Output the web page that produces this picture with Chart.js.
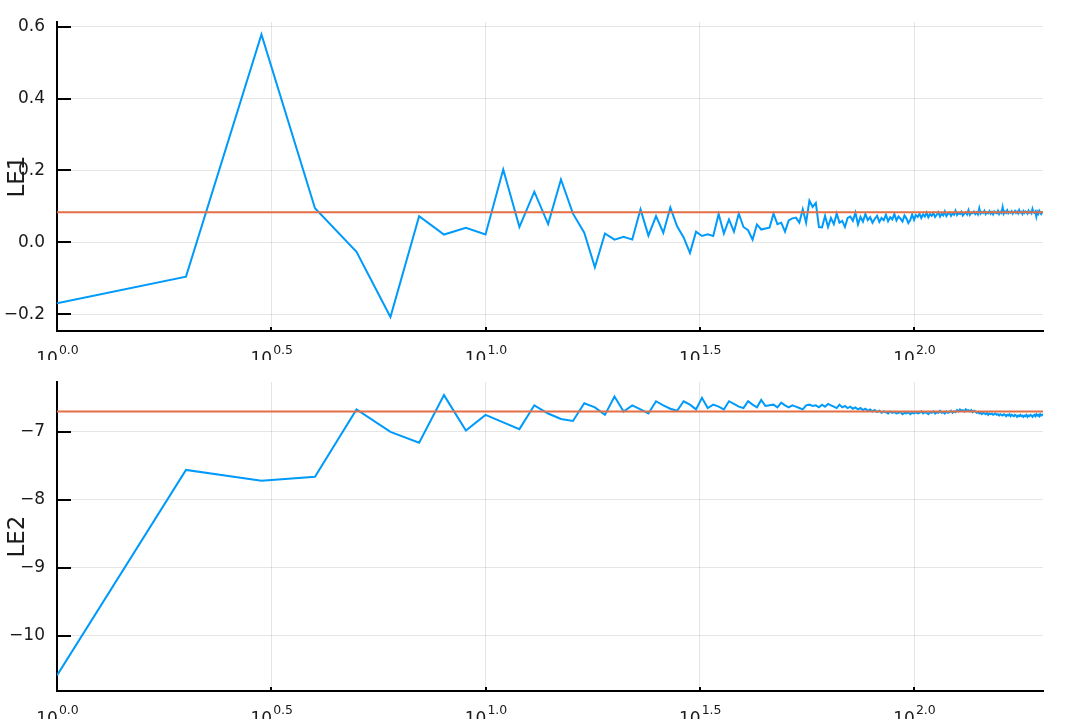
<!DOCTYPE html>
<html>
<head>
<meta charset="utf-8">
<script src="https://cdn.jsdelivr.net/npm/chart.js@4/dist/chart.umd.min.js"></script>
<style>
  body { margin: 0; background: #fff; }
  #wrap { position: relative; width: 1079px; height: 719px; overflow: hidden; }
  .panel { position: absolute; left: 0; width: 1079px; }
</style>
</head>
<body>
<div id="wrap">
  <div class="panel" style="top:0;height:360px"><canvas id="le1"></canvas></div>
  <div class="panel" style="top:360px;height:359px"><canvas id="le2"></canvas></div>
</div>
<script>
// iteration number 1..200 on the x axis
var steps = [];
for (var i = 1; i <= 200; i++) steps.push(i);

// LE1 running estimate
var le1 = [
  -0.169, -0.095, 0.578, 0.095, -0.026, -0.207, 0.073, 0.022, 0.041, 0.022,
  0.203, 0.043, 0.141, 0.051, 0.175, 0.080, 0.027, -0.069, 0.025, 0.008,
  0.016, 0.008, 0.092, 0.019, 0.073, 0.027, 0.097, 0.045, 0.014, -0.029,
  0.030, 0.018, 0.023, 0.018, 0.079, 0.025, 0.064, 0.030, 0.080, 0.043,
  0.034, 0.008, 0.050, 0.036, 0.039, 0.041, 0.080, 0.051, 0.055, 0.030,
  0.061, 0.067, 0.069, 0.055, 0.092, 0.055, 0.116, 0.099, 0.110, 0.043,
  0.042, 0.074, 0.043, 0.068, 0.051, 0.080, 0.055, 0.060, 0.043, 0.068,
  0.072, 0.060, 0.083, 0.050, 0.071, 0.058, 0.079, 0.062, 0.070, 0.055,
  0.066, 0.074, 0.057, 0.068, 0.062, 0.077, 0.059, 0.070, 0.064, 0.079,
  0.061, 0.072, 0.066, 0.058, 0.075, 0.067, 0.054, 0.062, 0.078, 0.063,
  0.076, 0.071, 0.080, 0.068, 0.078, 0.072, 0.083, 0.070, 0.079, 0.074,
  0.082, 0.071, 0.077, 0.084, 0.072, 0.080, 0.075, 0.086, 0.073, 0.079,
  0.083, 0.074, 0.081, 0.077, 0.088, 0.076, 0.082, 0.079, 0.085, 0.075,
  0.080, 0.084, 0.078, 0.090, 0.077, 0.083, 0.081, 0.086, 0.079, 0.084,
  0.078, 0.095, 0.080, 0.085, 0.082, 0.088, 0.079, 0.084, 0.081, 0.087,
  0.080, 0.085, 0.078, 0.086, 0.083, 0.081, 0.088, 0.079, 0.085, 0.082,
  0.098, 0.080, 0.086, 0.082, 0.089, 0.081, 0.085, 0.083, 0.087, 0.080,
  0.084, 0.088, 0.082, 0.086, 0.081, 0.090, 0.083, 0.085, 0.079, 0.087,
  0.082, 0.086, 0.084, 0.080, 0.088, 0.083, 0.085, 0.081, 0.093, 0.084,
  0.082, 0.086, 0.072, 0.085, 0.080, 0.088, 0.083, 0.079, 0.084, 0.082
];
var le1Ref = 0.084;

// LE2 running estimate
var le2 = [
  -10.58, -7.56, -7.72, -7.66, -6.67, -7.00, -7.16, -6.46, -6.98, -6.75,
  -6.86, -6.96, -6.61, -6.73, -6.81, -6.84, -6.58, -6.64, -6.75, -6.48,
  -6.70, -6.61, -6.67, -6.73, -6.55, -6.61, -6.66, -6.69, -6.55, -6.60,
  -6.67, -6.50, -6.65, -6.60, -6.63, -6.67, -6.55, -6.59, -6.63, -6.65,
  -6.55, -6.60, -6.64, -6.53, -6.62, -6.61, -6.60, -6.64, -6.57, -6.61,
  -6.64, -6.61, -6.63, -6.65, -6.67, -6.61, -6.60, -6.62, -6.61, -6.64,
  -6.60, -6.63, -6.59, -6.61, -6.63, -6.65, -6.60, -6.64, -6.62, -6.65,
  -6.63, -6.66, -6.64, -6.67, -6.65, -6.68, -6.66, -6.69, -6.67, -6.70,
  -6.68, -6.71, -6.69, -6.72, -6.70, -6.71, -6.73, -6.70, -6.72, -6.71,
  -6.73, -6.72, -6.71, -6.74, -6.72, -6.73, -6.71, -6.74, -6.72, -6.73,
  -6.71, -6.73, -6.72, -6.70, -6.73, -6.71, -6.72, -6.74, -6.71, -6.72,
  -6.70, -6.73, -6.71, -6.72, -6.69, -6.72, -6.71, -6.73, -6.70, -6.72,
  -6.71, -6.69, -6.72, -6.70, -6.71, -6.68, -6.70, -6.67, -6.69, -6.68,
  -6.70, -6.67, -6.69, -6.68, -6.70, -6.68, -6.71, -6.69, -6.70, -6.72,
  -6.71, -6.73, -6.72, -6.74, -6.72, -6.73, -6.74, -6.72, -6.75, -6.73,
  -6.74, -6.73, -6.75, -6.74, -6.73, -6.75, -6.74, -6.76, -6.74, -6.75,
  -6.76, -6.74, -6.75, -6.77, -6.75, -6.76, -6.74, -6.77, -6.75, -6.76,
  -6.77, -6.75, -6.76, -6.78, -6.76, -6.77, -6.75, -6.77, -6.76, -6.78,
  -6.76, -6.77, -6.75, -6.78, -6.76, -6.77, -6.75, -6.76, -6.78, -6.76,
  -6.75, -6.77, -6.74, -6.76, -6.75, -6.77, -6.74, -6.76, -6.75, -6.74
];
var le2Ref = -6.70;

// tick positions and labels
var xTicks = [1, 3.16228, 10, 31.6228, 100];
var xTickExps = ['0.0', '0.5', '1.0', '1.5', '2.0'];
var le1Ticks = [-0.2, 0, 0.2, 0.4, 0.6];
var le1TickLabels = ['\u22120.2', '0.0', '0.2', '0.4', '0.6'];
var le2Ticks = [-10, -9, -8, -7];
var le2TickLabels = ['\u221210', '\u22129', '\u22128', '\u22127'];

var FONT = '"DejaVu Sans", sans-serif';

// inward ticks + 10^x labels like the original
var axisDecor = {
  id: 'axisDecor',
  afterDraw: function (chart) {
    var ctx = chart.ctx, a = chart.chartArea;
    var xs = chart.scales.x, ys = chart.scales.y;
    ctx.save();
    ctx.strokeStyle = '#000';
    ctx.lineWidth = 2;
    ys.ticks.forEach(function (t) {
      var py = Math.round(ys.getPixelForValue(t.value));
      ctx.beginPath(); ctx.moveTo(a.left, py); ctx.lineTo(a.left + 14, py); ctx.stroke();
    });
    xs.ticks.forEach(function (t) {
      var px = Math.round(xs.getPixelForValue(t.value));
      ctx.beginPath(); ctx.moveTo(px, a.bottom); ctx.lineTo(px, a.bottom - 4); ctx.stroke();
    });
    ctx.fillStyle = '#1a1a1a';
    ctx.textAlign = 'left';
    ctx.textBaseline = 'alphabetic';
    xs.ticks.forEach(function (t, i) {
      var px = xs.getPixelForValue(t.value);
      ctx.font = '17px ' + FONT;
      var wb = ctx.measureText('10').width;
      ctx.font = '12.5px ' + FONT;
      var we = ctx.measureText(xTickExps[i]).width;
      var x0 = px - (wb + we) / 2;
      ctx.font = '17px ' + FONT;
      ctx.fillText('10', x0, a.bottom + 33);
      ctx.font = '12.5px ' + FONT;
      ctx.fillText(xTickExps[i], x0 + wb + 1, a.bottom + 23);
    });
    ctx.restore();
  }
};

function makeChart(id, values, ref, yMin, yMax, yTicks, yLabels, title, xH) {
  var ctx = document.getElementById(id).getContext('2d');
  return new Chart(ctx, {
    type: 'line',
    data: {
      datasets: [{
        label: 'mean',
        data: [{ x: steps[0], y: ref }, { x: steps[steps.length - 1], y: ref }],
        borderColor: '#E26F46',
        borderWidth: 2,
        pointRadius: 0
      }, {
        label: title,
        data: steps.map(function (s, i) { return { x: s, y: values[i] }; }),
        borderColor: '#009AFA',
        borderWidth: 2,
        pointRadius: 0,
        tension: 0
      }]
    },
    options: {
      responsive: true,
      maintainAspectRatio: false,
      animation: false,
      events: [],
      layout: { padding: { top: id === 'le1' ? 22 : 21, right: 36, left: 0, bottom: 0 } },
      plugins: { legend: { display: false }, tooltip: { enabled: false } },
      scales: {
        x: {
          type: 'logarithmic',
          min: 1,
          max: 200,
          afterBuildTicks: function (s) { s.ticks = xTicks.map(function (v) { return { value: v }; }); },
          afterFit: function (s) { s.height = xH; },
          ticks: { display: false },
          grid: { color: 'rgba(0,0,0,0.1)', lineWidth: 1, drawTicks: false },
          border: { display: true, color: '#000', width: 2 }
        },
        y: {
          min: yMin,
          max: yMax,
          afterBuildTicks: function (s) { s.ticks = yTicks.map(function (v) { return { value: v }; }); },
          afterFit: function (s) { s.width = 57; },
          ticks: {
            padding: 12,
            color: '#1a1a1a',
            font: { family: FONT, size: 17 },
            callback: function (v, i) { return yLabels[i]; }
          },
          title: { display: true, text: title, color: '#1a1a1a', font: { family: FONT, size: 23 }, padding: { top: 4, bottom: 0 } },
          grid: { color: 'rgba(0,0,0,0.1)', lineWidth: 1, drawTicks: false },
          border: { display: true, color: '#000', width: 2 }
        }
      }
    },
    plugins: [axisDecor]
  });
}

makeChart('le1', le1, le1Ref, -0.246, 0.612, le1Ticks, le1TickLabels, 'LE1', 29);
makeChart('le2', le2, le2Ref, -10.81, -6.27, le2Ticks, le2TickLabels, 'LE2', 28);
</script>
</body>
</html>
